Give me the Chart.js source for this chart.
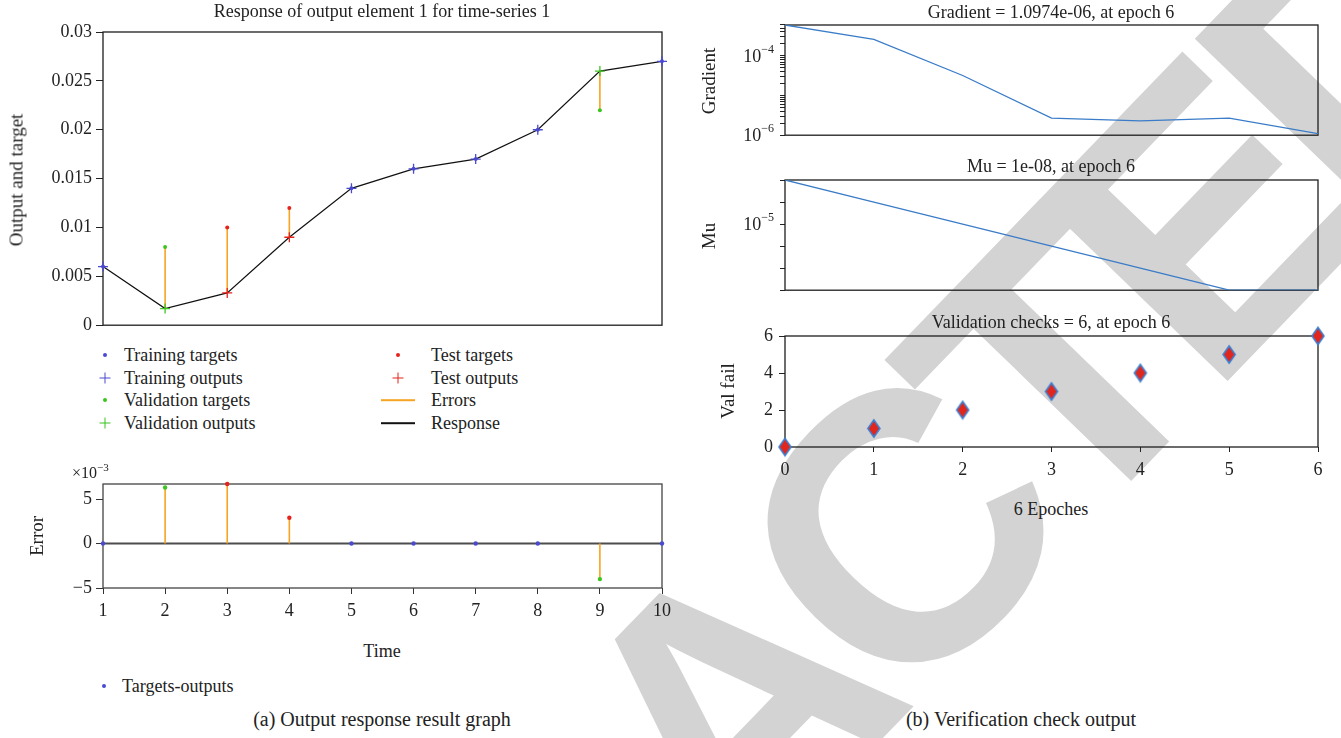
<!DOCTYPE html>
<html>
<head>
<meta charset="utf-8">
<script src="https://cdn.jsdelivr.net/npm/chart.js@4.4.1/dist/chart.umd.min.js"></script>
<style>
  body { margin: 0; background: #fff; width: 1341px; height: 738px; overflow: hidden; position: relative;
         font-family: "Liberation Serif", "Times New Roman", serif; color: #222; }
  canvas { position: absolute; z-index: 2; }
  .t { position: absolute; z-index: 3; white-space: nowrap; font-size: 18px; line-height: 1; }
  .c { transform: translate(-50%, -50%); }
  .l { transform: translate(0, -50%); }
  .v { transform: translate(-50%, -50%) rotate(-90deg); font-size: 19px; }
  .cap { font-size: 20px; }
  .wm { position: absolute; z-index: 1; left: -157px; top: 1311px; white-space: nowrap; line-height: 1;
        font: bold 380px "Liberation Sans", sans-serif; letter-spacing: -30px; color: #d3d3d3;
        transform-origin: 0 0; transform: rotate(-46deg); }
  .mk { position: absolute; z-index: 3; transform: translate(-50%, -50%); }
  .dot { width: 4px; height: 4px; border-radius: 50%; }
  .plus { width: 11px; height: 11px; }
  .plus::before, .plus::after { content: ''; position: absolute; background: currentColor; }
  .plus::before { left: 0; top: 4.8px; width: 11px; height: 1.5px; }
  .plus::after { left: 4.8px; top: 0; width: 1.5px; height: 11px; }
  .ln { width: 34px; height: 1.6px; }
  sup { font-size: 11px; vertical-align: 7px; line-height: 0; }
</style>
</head>
<body>
<div class="wm">RETRACTED</div>

<canvas id="resp" width="690" height="340" style="left:0;top:0"></canvas>
<canvas id="err" width="690" height="170" style="left:0;top:455px"></canvas>
<canvas id="grad" width="651" height="150" style="left:690px;top:0"></canvas>
<canvas id="mu" width="651" height="155" style="left:690px;top:150px"></canvas>
<canvas id="val" width="651" height="185" style="left:690px;top:305px"></canvas>

<div class="t c" style="left:382px;top:11px">Response of output element 1 for time-series 1</div>
<div class="t v" style="left:16px;top:180px">Output and target</div>

<div class="mk dot" style="left:105px;top:355px;background:#4a4ad0"></div>
<div class="t l" style="left:124px;top:355px">Training targets</div>
<div class="mk plus" style="left:105px;top:378px;color:#4a4ad0"></div>
<div class="t l" style="left:124px;top:378px">Training outputs</div>
<div class="mk dot" style="left:105px;top:400px;background:#3cc421"></div>
<div class="t l" style="left:124px;top:400px">Validation targets</div>
<div class="mk plus" style="left:105px;top:423px;color:#3cc421"></div>
<div class="t l" style="left:124px;top:423px">Validation outputs</div>
<div class="mk dot" style="left:398px;top:355px;background:#e5231b"></div>
<div class="t l" style="left:431px;top:355px">Test targets</div>
<div class="mk plus" style="left:398px;top:378px;color:#e5231b"></div>
<div class="t l" style="left:431px;top:378px">Test outputs</div>
<div class="mk ln" style="left:398px;top:400px;background:#f7a423"></div>
<div class="t l" style="left:431px;top:400px">Errors</div>
<div class="mk ln" style="left:398px;top:423px;background:#111"></div>
<div class="t l" style="left:431px;top:423px">Response</div>

<div class="t l" style="left:72px;top:473px;font-size:16px">×10<sup>−3</sup></div>
<div class="t v" style="left:36px;top:536px">Error</div>
<div class="t c" style="left:382px;top:651px">Time</div>
<div class="mk dot" style="left:104px;top:686px;background:#4a4ad0"></div>
<div class="t l" style="left:122px;top:686px">Targets-outputs</div>
<div class="t c cap" style="left:382px;top:719px">(a) Output response result graph</div>

<div class="t c" style="left:1051px;top:12px">Gradient = 1.0974e-06, at epoch 6</div>
<div class="t v" style="left:708px;top:81px">Gradient</div>
<div class="t c" style="left:1051px;top:166px">Mu = 1e-08, at epoch 6</div>
<div class="t v" style="left:708px;top:236px">Mu</div>
<div class="t c" style="left:1051px;top:322px">Validation checks = 6, at epoch 6</div>
<div class="t v" style="left:727px;top:391px">Val fail</div>
<div class="t c" style="left:1051px;top:509px">6 Epoches</div>
<div class="t c cap" style="left:1021px;top:719px">(b) Verification check output</div>

<script>
// (a) response of output element 1
const times = [1, 2, 3, 4, 5, 6, 7, 8, 9, 10];
const groups = ['train', 'val', 'test', 'test', 'train', 'train', 'train', 'train', 'val', 'train'];
const targets = [0.006, 0.008, 0.010, 0.012, 0.014, 0.016, 0.017, 0.020, 0.022, 0.027];
const outputs = [0.006, 0.0017, 0.0033, 0.009, 0.014, 0.016, 0.017, 0.020, 0.026, 0.027];
const errors = [0, 0.0063, 0.0067, 0.0029, 0, 0, 0, 0, -0.004, 0];
const respTicks = [0, 0.005, 0.01, 0.015, 0.02, 0.025, 0.03];
const respTickLabels = ['0', '0.005', '0.01', '0.015', '0.02', '0.025', '0.03'];
const errTicks = [-0.005, 0, 0.005];
const errTickLabels = ['\u22125', '0', '5'];

// (b) training record
const epochs = [0, 1, 2, 3, 4, 5, 6];
const gradient = [6.0e-4, 2.6e-4, 3.2e-5, 2.7e-6, 2.3e-6, 2.7e-6, 1.0974e-6];
const mu = [1e-3, 1e-4, 1e-5, 1e-6, 1e-7, 1e-8, 1e-8];
const valFail = [0, 1, 2, 3, 4, 5, 6];
const gradMajor = [1e-6, 1e-4];
const gradExp = ['\u22126', '\u22124'];
const muTicks = [1e-8, 1e-7, 1e-6, 1e-5, 1e-4, 1e-3];
const muMajor = [1e-5];
const muExp = ['\u22125'];
const valTicks = [0, 2, 4, 6];

const colors = { train: '#4a4ad0', val: '#3cc421', test: '#e5231b' };
const errColor = '#f7a423';
const trainLine = '#3a7cc8';
const serif = '"Liberation Serif", "Times New Roman", serif';

Chart.defaults.font.family = serif;
Chart.defaults.font.size = 18;
Chart.defaults.color = '#222';

const fixY = w => s => { s.width = w; };
const fixX = h => s => { s.height = h; };
const setTicks = list => s => { s.ticks = list.map(v => ({ value: v })); };

const axis = extra => Object.assign({
  grid: { display: true, drawOnChartArea: false, drawTicks: true, tickLength: 7, color: '#222', lineWidth: 1 },
  border: { display: false }
}, extra);

const frame = color => ({
  id: 'frame',
  beforeDatasetsDraw(chart) {
    const { ctx, chartArea: a } = chart;
    ctx.save();
    ctx.strokeStyle = color;
    ctx.lineWidth = 1.3;
    ctx.strokeRect(a.left, a.top, a.right - a.left, a.bottom - a.top);
    ctx.restore();
  }
});

const zeroLine = {
  id: 'zeroLine',
  beforeDatasetsDraw(chart) {
    const { ctx, chartArea: a, scales: { y } } = chart;
    const py = y.getPixelForValue(0);
    ctx.save();
    ctx.strokeStyle = '#4d4d4d';
    ctx.lineWidth = 2;
    ctx.beginPath();
    ctx.moveTo(a.left, py);
    ctx.lineTo(a.right, py);
    ctx.stroke();
    ctx.restore();
  }
};

// "10" with a raised exponent, placed at the scale's own pixel for each major value
const powerLabels = (majors, exps) => ({
  id: 'powerLabels',
  afterDraw(chart) {
    const { ctx, scales: { y } } = chart;
    ctx.save();
    ctx.fillStyle = '#222';
    ctx.textBaseline = 'middle';
    ctx.textAlign = 'left';
    majors.forEach((v, i) => {
      const py = y.getPixelForValue(v);
      ctx.font = '12px ' + serif;
      const ew = ctx.measureText(exps[i]).width;
      ctx.font = '18px ' + serif;
      const bw = ctx.measureText('10').width;
      const right = y.right - 11;
      ctx.fillText('10', right - ew - bw, py + 1);
      ctx.font = '12px ' + serif;
      ctx.fillText(exps[i], right - ew, py - 6);
    });
    ctx.restore();
  }
});

const base = padding => ({
  animation: false,
  responsive: false,
  events: [],
  layout: { padding },
  plugins: { legend: { display: false }, tooltip: { enabled: false } }
});

const pts = (ys, g) => times.map((t, i) => ({ x: t, y: ys[i] })).filter((_, i) => groups[i] === g);

const markers = (g, ys, style, r) => ({
  data: pts(ys, g),
  showLine: false,
  clip: false,
  pointStyle: style,
  pointRadius: r,
  pointBackgroundColor: colors[g],
  pointBorderColor: colors[g],
  pointBorderWidth: style === 'cross' ? 1.3 : 0,
  order: style === 'cross' ? 0 : 1
});

// stems between target and output
const respStems = times.flatMap((t, i) => targets[i] === outputs[i] ? [] :
  [{ x: t, y: targets[i] }, { x: t, y: outputs[i] }, { x: t, y: null }]);

new Chart(document.getElementById('resp'), {
  type: 'line',
  data: {
    datasets: [
      markers('train', targets, 'circle', 2),
      markers('train', outputs, 'cross', 5),
      markers('val', targets, 'circle', 2),
      markers('val', outputs, 'cross', 5),
      markers('test', targets, 'circle', 2),
      markers('test', outputs, 'cross', 5),
      { data: respStems, borderColor: errColor, borderWidth: 1.6, pointRadius: 0, spanGaps: false, order: 3 },
      { data: times.map((t, i) => ({ x: t, y: outputs[i] })), borderColor: '#111', borderWidth: 1.2,
        pointRadius: 0, tension: 0, order: 2 }
    ]
  },
  options: Object.assign(base({ top: 32, right: 28, left: 0, bottom: 0 }), {
    scales: {
      x: axis({ type: 'linear', min: 1, max: 10, grid: { display: false }, ticks: { display: false },
                afterFit: fixX(14) }),
      y: axis({ type: 'linear', min: 0, max: 0.03, afterBuildTicks: setTicks(respTicks), afterFit: fixY(103),
                ticks: { autoSkip: false, padding: 4, callback: (v, i) => respTickLabels[i] } })
    }
  }),
  plugins: [frame('#1e1e1e')]
});

// error panel
const errStems = times.flatMap((t, i) => errors[i] === 0 ? [] :
  [{ x: t, y: 0 }, { x: t, y: errors[i] }, { x: t, y: null }]);

new Chart(document.getElementById('err'), {
  type: 'line',
  data: {
    datasets: [
      { data: times.map((t, i) => ({ x: t, y: errors[i] })), showLine: false, clip: false,
        pointRadius: 2.2, pointBorderWidth: 0,
        pointBackgroundColor: groups.map(g => colors[g]), order: 0 },
      { data: errStems, borderColor: errColor, borderWidth: 1.6, pointRadius: 0, spanGaps: false, order: 1 }
    ]
  },
  options: Object.assign(base({ top: 29, right: 28, left: 0, bottom: 0 }), {
    scales: {
      x: axis({ type: 'linear', min: 1, max: 10, afterBuildTicks: setTicks(times), afterFit: fixX(37),
                grid: { display: true, drawOnChartArea: false, tickLength: 6, color: '#333' },
                ticks: { autoSkip: false, padding: 6, maxRotation: 0, callback: v => String(v) } }),
      y: axis({ type: 'linear', min: -0.005, max: 0.0067, afterBuildTicks: setTicks(errTicks), afterFit: fixY(103),
                grid: { display: true, drawOnChartArea: false, tickLength: 7, color: '#333' },
                ticks: { autoSkip: false, padding: 4, callback: (v, i) => errTickLabels[i] } })
    }
  }),
  plugins: [frame('#444'), zeroLine]
});

// log ticks: every integer multiple inside each decade
const logTicks = (lo, hi) => {
  const out = [];
  for (let k = Math.floor(Math.log10(lo)); k <= Math.ceil(Math.log10(hi)); k++) {
    for (let m = 1; m < 10; m++) {
      const v = m * Math.pow(10, k);
      if (v >= lo * 0.999 && v <= hi * 1.001) out.push(v);
    }
  }
  return out;
};

const trainCfg = (values, lo, hi, ticks, majors, exps, padTop) => ({
  type: 'line',
  data: {
    datasets: [{ data: epochs.map((e, i) => ({ x: e, y: values[i] })), borderColor: trainLine,
                 borderWidth: 1.3, pointRadius: 0, tension: 0 }]
  },
  options: Object.assign(base({ top: padTop, right: 23, left: 0, bottom: 0 }), {
    scales: {
      x: axis({ type: 'linear', min: 0, max: 6, grid: { display: false }, ticks: { display: false },
                afterFit: fixX(13) }),
      y: axis({ type: 'logarithmic', min: lo, max: hi, afterBuildTicks: setTicks(ticks), afterFit: fixY(95),
                grid: { display: true, drawOnChartArea: false, tickLength: 5, color: '#222' },
                ticks: { autoSkip: false, padding: 4, callback: () => '' } })
    }
  }),
  plugins: [frame('#1e1e1e'), powerLabels(majors, exps)]
});

new Chart(document.getElementById('grad'),
  trainCfg(gradient, 1e-6, 6.0e-4, logTicks(1e-6, 6.0e-4), gradMajor, gradExp, 25));
new Chart(document.getElementById('mu'),
  trainCfg(mu, 1e-8, 1e-3, muTicks, muMajor, muExp, 30));

// validation checks
const diamond = (w, h) => {
  const c = document.createElement('canvas');
  c.width = w + 4; c.height = h + 4;
  const g = c.getContext('2d');
  g.beginPath();
  g.moveTo(c.width / 2, 2);
  g.lineTo(c.width - 2, c.height / 2);
  g.lineTo(c.width / 2, c.height - 2);
  g.lineTo(2, c.height / 2);
  g.closePath();
  g.fillStyle = '#e0261d';
  g.fill();
  g.lineWidth = 1.6;
  g.strokeStyle = '#3d7fd0';
  g.stroke();
  return c;
};

new Chart(document.getElementById('val'), {
  type: 'line',
  data: {
    datasets: [{ data: epochs.map((e, i) => ({ x: e, y: valFail[i] })), showLine: false, clip: false,
                 pointStyle: diamond(12, 17), pointRadius: 8 }]
  },
  options: Object.assign(base({ top: 31, right: 23, left: 0, bottom: 0 }), {
    scales: {
      x: axis({ type: 'linear', min: 0, max: 6, afterBuildTicks: setTicks(epochs), afterFit: fixX(43),
                grid: { display: true, drawOnChartArea: false, tickLength: 5, color: '#222' },
                ticks: { autoSkip: false, padding: 7, maxRotation: 0, callback: v => String(v) } }),
      y: axis({ type: 'linear', min: 0, max: 6, afterBuildTicks: setTicks(valTicks), afterFit: fixY(95),
                grid: { display: true, drawOnChartArea: false, tickLength: 6, color: '#222' },
                ticks: { autoSkip: false, padding: 6, callback: v => String(v) } })
    }
  }),
  plugins: [frame('#1e1e1e')]
});
</script>
</body>
</html>
